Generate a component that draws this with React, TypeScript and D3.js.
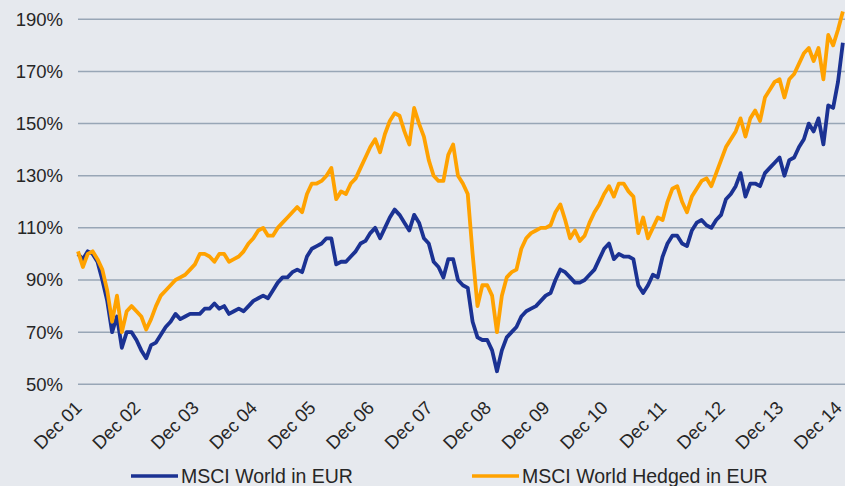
import { line as d3Line, scaleLinear } from "d3";

// tick labels (one per December, 12 months apart)
const yearLabels = [
  "Dec 01", "Dec 02", "Dec 03", "Dec 04", "Dec 05", "Dec 06", "Dec 07",
  "Dec 08", "Dec 09", "Dec 10", "Dec 11", "Dec 12", "Dec 13", "Dec 14"
];
const percentTicks = [50, 70, 90, 110, 130, 150, 170, 190];

// monthly index levels (%), month 0 = Dec 01
const msciWorldEur = [
  100, 98, 101, 100, 97, 90, 82, 70, 76, 64, 70, 70, 67,
  63, 60, 65, 66, 69, 72, 74, 77, 75, 76, 77, 77,
  77, 79, 79, 81, 79, 80, 77, 78, 79, 78, 80, 82,
  83, 84, 83, 86, 89, 91, 91, 93, 94, 93, 99, 102,
  103, 104, 106, 106, 96, 97, 97, 99, 101, 104, 105, 108,
  110, 106, 110, 114, 117, 115, 112, 109, 115, 112, 106, 104,
  97, 95, 91, 98, 98, 90, 88, 87, 74, 68, 67, 67,
  63, 55, 63, 68, 70, 72, 76, 78, 79, 80, 82, 84,
  85, 90, 94, 93, 91, 89, 89, 90, 92, 94, 98, 102,
  104, 98, 100, 99, 99, 98, 88, 85, 88, 92, 91, 99,
  104, 107, 107, 104, 103, 109, 112, 113, 111, 110, 113, 115,
  121, 123, 126, 131, 122, 127, 127, 126, 131, 133, 135, 137,
  130, 136, 137, 141, 144, 150, 147, 152, 142, 157, 156, 166,
  181
];
const msciWorldHedgedEur = [
  101, 95, 100, 101, 98, 94, 86, 74, 84, 70, 78, 80, 78,
  76, 71, 75, 80, 84, 86, 88, 90, 91, 92, 94, 96,
  100, 100, 99, 97, 100, 100, 97, 98, 99, 101, 104, 106,
  109, 110, 107, 107, 110, 112, 114, 116, 118, 116, 123, 127,
  127, 128, 130, 133, 121, 124, 123, 127, 129, 133, 137, 141,
  144, 139, 146, 151, 154, 153, 147, 142, 156, 150, 145, 136,
  130, 128, 128, 138, 142, 130, 127, 123, 100, 80, 88, 88,
  84, 70, 84, 91, 93, 94, 102, 106, 108, 109, 110, 110,
  111, 116, 119, 113, 106, 109, 105, 107, 112, 116, 119, 123,
  126, 122, 127, 127, 124, 122, 108, 114, 106, 110, 114, 113,
  120, 125, 126, 120, 116, 122, 125, 128, 129, 126, 131, 136,
  141, 144, 147, 152, 145, 152, 155, 151, 160, 163, 166, 167,
  160, 167, 169, 173, 177, 179, 174, 179, 167, 184, 180, 186,
  193
];

const legendItems = [
  { label: "MSCI World in EUR", color: "#1b3293", x: 131 },
  { label: "MSCI World Hedged in EUR", color: "#ffa200", x: 472 }
];

const width = 845;
const height = 486;
const font = "'Liberation Sans', Arial, sans-serif";

export default function App() {
  const x = scaleLinear().domain([0, 156]).range([78, 838]);
  const y = scaleLinear().domain([50, 190]).range([384.3, 19.3]);

  const line = d3Line<number>()
    .x((_, i) => x(i))
    .y((d) => y(d));

  const series = [
    { values: msciWorldEur, color: legendItems[0].color },
    { values: msciWorldHedgedEur, color: legendItems[1].color }
  ];

  return (
    <svg
      width={width}
      height={height}
      style={{ position: "absolute", left: 0, top: 0, fontFamily: font }}
    >
      <rect width={width} height={height} fill="#e6e9ee" />
      {percentTicks.map((t) => (
        <g key={t}>
          <line x1={78} x2={width} y1={y(t)} y2={y(t)} stroke="#98a6b6" strokeWidth={1.5} />
          <text x={63} y={y(t)} dy="0.35em" textAnchor="end" fontSize={18.5} fill="#262626">
            {t}%
          </text>
        </g>
      ))}
      {yearLabels.map((label, i) => {
        const tx = x(i * 12) + 5;
        const ty = 409;
        return (
          <text
            key={label}
            x={tx}
            y={ty}
            transform={`rotate(-45, ${tx}, ${ty})`}
            textAnchor="end"
            fontSize={18.5}
            fill="#262626"
          >
            {label}
          </text>
        );
      })}
      {series.map((s, i) => (
        <path
          key={i}
          d={line(s.values) ?? undefined}
          fill="none"
          stroke={s.color}
          strokeWidth={3.8}
          strokeLinejoin="round"
        />
      ))}
      {legendItems.map((item) => (
        <g key={item.label}>
          <line x1={item.x} x2={item.x + 47} y1={476} y2={476} stroke={item.color} strokeWidth={3.5} />
          <text x={item.x + 50} y={476} dy="0.35em" fontSize={19.5} fill="#262626">
            {item.label}
          </text>
        </g>
      ))}
    </svg>
  );
}
